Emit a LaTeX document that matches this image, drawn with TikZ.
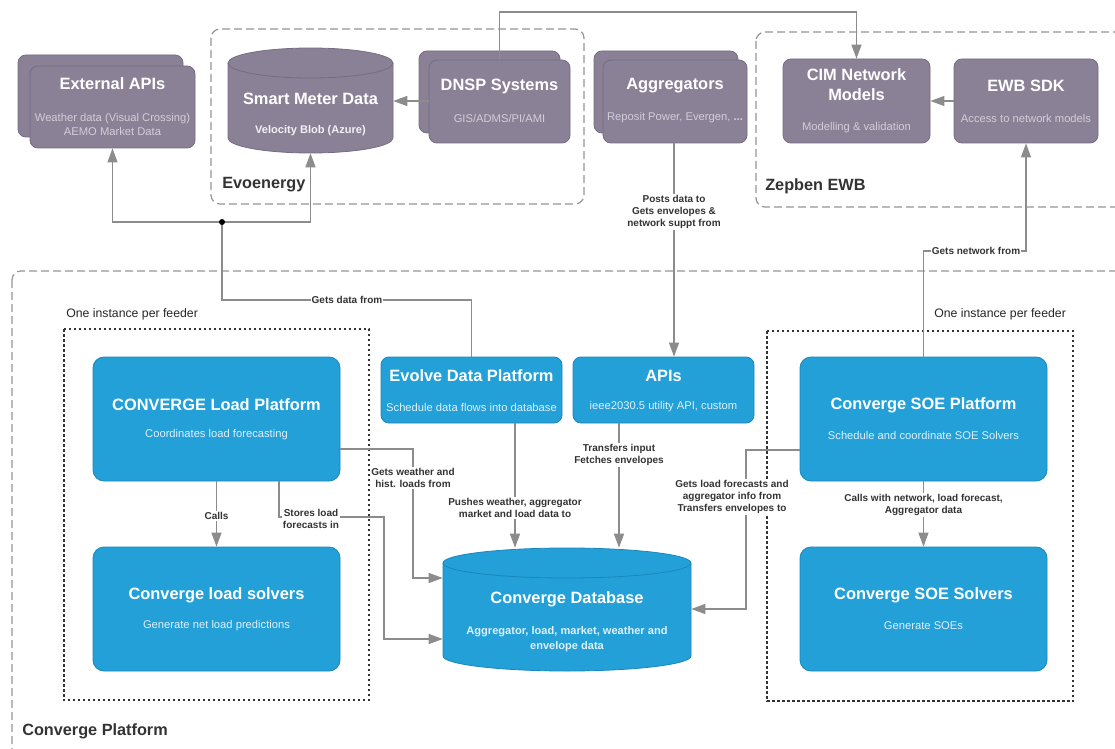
\documentclass[tikz,border=0pt]{standalone}
\usepackage{fontspec}
\setmainfont{Liberation Sans}
\usetikzlibrary{arrows.meta}
\newlength{\du}
\setlength{\du}{0.75pt}
\definecolor{evopurple}{RGB}{139,129,150}
\definecolor{evoedge}{RGB}{118,108,130}
\definecolor{convblue}{RGB}{35,160,216}
\definecolor{convedge}{RGB}{25,135,188}
\definecolor{linegray}{RGB}{140,140,140}
\definecolor{dashgray}{RGB}{150,150,150}
\definecolor{labelgray}{RGB}{51,51,51}
\definecolor{purplesub}{RGB}{210,206,216}
\definecolor{bluesub}{RGB}{222,240,250}
\tikzset{
  grpbox/.style={draw=dashgray, line width=1.2\du, dash pattern=on 8\du off 4\du, rounded corners=9\du},
  instbox/.style={draw=black!80, line width=1.2\du, dash pattern=on 2.5\du off 2.5\du},
  pbox/.style={fill=evopurple, draw=evoedge, line width=0.8\du, rounded corners=8\du, inner sep=0},
  bbox/.style={fill=convblue, draw=convedge, line width=0.8\du, rounded corners=11\du, inner sep=0},
  ttl/.style={text=white, font=\fontsize{12.3}{15}\selectfont\bfseries, align=center, inner sep=0},
  psub/.style={text=purplesub, font=\fontsize{8.4}{10.5}\selectfont, align=center, inner sep=0},
  bsub/.style={text=bluesub, font=\fontsize{8.4}{10.5}\selectfont, align=center, inner sep=0},
  grplbl/.style={text=labelgray, font=\fontsize{12.2}{14}\selectfont\bfseries, anchor=west, inner sep=0},
  instlbl/.style={text=black!85, font=\fontsize{9.2}{11}\selectfont, anchor=west, inner sep=0},
  elbl/.style={fill=white, text=labelgray, font=\fontsize{7.5}{9.3}\selectfont\bfseries, align=center, inner sep=1.2\du},
  lnk/.style={draw=linegray, line width=1.2\du},
  conn/.style={lnk, -{Triangle[length=10.5pt,width=7.5pt]}}
}
\begin{document}
\begin{tikzpicture}[x=0.75pt,y=-0.75pt]
\useasboundingbox (0,0) rectangle (1115,749);
\clip (0,0) rectangle (1115,749);
\fill[white] (0,0) rectangle (1115,749);
% groups
\draw[grpbox] (211,29) rectangle (584,204);
\draw[grpbox] (756,32) rectangle (1140,207);
\draw[grpbox] (12,271) rectangle (1140,780);
\draw[instbox] (64,329) rectangle (369,700);
\draw[instbox] (767,331) rectangle (1073,701);
\node[grplbl] (evo-lbl) at (222,185) {Evoenergy};
\node[grplbl] (zep-lbl) at (765,186) {Zepben EWB};
\node[grplbl] (conv-lbl) at (22,731) {Converge Platform};
\node[instlbl] (inst-l) at (66,314) {One instance per feeder};
\node[instlbl] (inst-r) at (934,314) {One instance per feeder};
% external systems
\node[pbox, minimum width=165\du, minimum height=82\du] (ext-bk) at (100.5,96) {};
\node[pbox, minimum width=165\du, minimum height=82\du] (ext) at (112.5,107) {};
\node[ttl] (ext-t) at (112.5,84) {External APIs};
\node[psub] (ext-s) at (112.5,124) {Weather data (Visual Crossing)\\AEMO Market Data};
\fill[evopurple] (228,63) -- (228,138) arc[start angle=180,end angle=360,x radius=82.5\du,y radius=15\du] -- (393,63) arc[start angle=0,end angle=180,x radius=82.5\du,y radius=15\du] -- cycle;
\draw[evoedge, line width=0.8\du] (228,63) -- (228,138) arc[start angle=180,end angle=360,x radius=82.5\du,y radius=15\du] -- (393,63) arc[start angle=0,end angle=180,x radius=82.5\du,y radius=15\du] -- cycle;
\draw[evoedge, line width=0.8\du] (228,63) arc[start angle=180,end angle=360,x radius=82.5\du,y radius=15\du];
\node[minimum width=165\du, minimum height=105\du, inner sep=0] (smd) at (310.5,100.5) {};
\node[ttl] (smd-t) at (310.5,99) {Smart Meter Data};
\node[psub, font=\fontsize{8.3}{10}\selectfont\bfseries, text=white!88!evopurple] (smd-s) at (310.5,131) {Velocity Blob (Azure)};
\node[pbox, minimum width=141\du, minimum height=82\du] (dnsp-bk) at (489.5,92) {};
\node[pbox, minimum width=141\du, minimum height=83\du] (dnsp) at (499.5,101.5) {};
\node[ttl] (dnsp-t) at (499.5,86) {DNSP Systems};
\node[psub] (dnsp-s) at (499.5,118) {GIS/ADMS/PI/AMI};
\node[pbox, minimum width=144\du, minimum height=82\du] (agg-bk) at (666,92) {};
\node[pbox, minimum width=144\du, minimum height=83\du] (agg) at (675,101.5) {};
\node[ttl] (agg-t) at (675,86) {Aggregators};
\node[psub] (agg-s) at (675,118) {Reposit Power, Evergen, \textbf{...}};
\node[pbox, minimum width=147\du, minimum height=84\du] (cim) at (856.5,101) {};
\node[ttl] (cim-t) at (856.5,85) {CIM Network\\Models};
\node[psub] (cim-s) at (856.5,128) {Modelling \& validation};
\node[pbox, minimum width=144\du, minimum height=84\du] (ewb) at (1026,101) {};
\node[ttl] (ewb-t) at (1026,86) {EWB SDK};
\node[psub] (ewb-s) at (1026,118) {Access to network models};
% converge platform
\node[bbox, minimum width=247\du, minimum height=124\du] (lp) at (216.5,419) {};
\node[ttl] (lp-t) at (216.5,405) {CONVERGE Load Platform};
\node[bsub] (lp-s) at (216.5,435) {Coordinates load forecasting};
\node[bbox, minimum width=247\du, minimum height=124\du] (ls) at (216.5,609) {};
\node[ttl] (ls-t) at (216.5,595) {Converge load solvers};
\node[bsub] (ls-s) at (216.5,626) {Generate net load predictions};
\node[bbox, rounded corners=8\du, minimum width=181\du, minimum height=66\du] (edp) at (471.5,390) {};
\node[ttl] (edp-t) at (471.5,376) {Evolve Data Platform};
\node[bsub] (edp-s) at (471.5,407) {Schedule data flows into database};
\node[bbox, rounded corners=8\du, minimum width=181\du, minimum height=66\du] (api) at (663.5,390) {};
\node[ttl] (api-t) at (663.5,376) {APIs};
\node[bsub] (api-s) at (663.5,407) {ieee2030.5 utility API, custom};
\node[bbox, minimum width=247\du, minimum height=124\du] (soe) at (923.5,419) {};
\node[ttl] (soe-t) at (923.5,405) {Converge SOE Platform};
\node[bsub] (soe-s) at (923.5,435) {Schedule and coordinate SOE Solvers};
\node[bbox, minimum width=247\du, minimum height=124\du] (ss) at (923.5,609) {};
\node[ttl] (ss-t) at (923.5,595) {Converge SOE Solvers};
\node[bsub] (ss-s) at (923.5,626) {Generate SOEs};
\fill[convblue] (443,563) -- (443,656) arc[start angle=180,end angle=360,x radius=124\du,y radius=15\du] -- (691,563) arc[start angle=0,end angle=180,x radius=124\du,y radius=15\du] -- cycle;
\draw[convedge, line width=0.8\du] (443,563) -- (443,656) arc[start angle=180,end angle=360,x radius=124\du,y radius=15\du] -- (691,563) arc[start angle=0,end angle=180,x radius=124\du,y radius=15\du] -- cycle;
\draw[convedge, line width=0.8\du] (443,563) arc[start angle=180,end angle=360,x radius=124\du,y radius=15\du];
\node[minimum width=248\du, minimum height=123\du, inner sep=0] (db) at (567,609.5) {};
\node[ttl] (db-t) at (567,599) {Converge Database};
\node[bsub, font=\fontsize{8.3}{11.2}\selectfont\bfseries] (db-s) at (567,639.5) {Aggregator, load, market, weather and\\envelope data};
% connectors
\coordinate (y101) at (0,101);
\coordinate (y12) at (0,12);
\coordinate (y300) at (0,300);
\coordinate (y251) at (0,251);
\coordinate (x674) at (674,0);
\coordinate (x279) at (279,0);
\coordinate (x515) at (515,0);
\coordinate (x619) at (619,0);
\coordinate (y449) at (0,449);
\coordinate (y450) at (0,450);
\coordinate (y578) at (0,578);
\coordinate (y609) at (0,609);
\coordinate (y639) at (0,639);
\draw[conn] (dnsp.west |- y101) -- (smd.east |- y101);
\draw[conn] (ewb.west) -- (cim.east);
\draw[conn] (dnsp.north) -- (dnsp.north |- y12) -| (cim.north);
\coordinate (jn) at (222,222);
\draw[conn] (jn) -| (ext.south);
\draw[conn] (jn) -| (smd.south);
\draw[lnk] (jn) |- (edp.north |- y300) -- (edp.north);
\fill[black] (jn) circle[radius=3\du];
\draw[conn] (agg.south -| x674) -- (api.north -| x674);
\draw[conn] (soe.north) -- (soe.north |- y251) -| (ewb.south);
\draw[conn] (lp.south) -- (ls.north);
\draw[conn] (soe.south) -- (ss.north);
\draw[conn] (lp.east |- y449) -| (413,578) -- (db.west |- y578);
\draw[conn] (lp.south -| x279) |- (384,517) |- (db.west |- y639);
\draw[conn] (edp.south -| x515) -- (db.north -| x515);
\draw[conn] (api.south -| x619) -- (db.north -| x619);
\draw[conn] (soe.west |- y450) -| (746,609) -- (db.east |- y609);
% connector labels
\node[elbl] (gd-lbl) at (347,300) {Gets data from};
\node[elbl] (ps-lbl) at (674,212) {Posts data to\\Gets envelopes \&\\network suppt from};
\node[elbl] (gn-lbl) at (976,251) {Gets network from};
\node[elbl] (ca-lbl) at (216.5,516) {Calls};
\node[elbl] (cw-lbl) at (923.5,505) {Calls with network, load forecast,\\Aggregator data};
\node[elbl] (gw-lbl) at (413,478) {Gets weather and\\hist. loads from};
\node[elbl] (st-lbl) at (311,519) {Stores load\\forecasts in};
\node[elbl] (pw-lbl) at (515,508) {Pushes weather, aggregator\\market and load data to};
\node[elbl] (tr-lbl) at (619,455) {Transfers input\\Fetches envelopes};
\node[elbl] (gl-lbl) at (732,497) {Gets load forecasts and\\aggregator info from\\Transfers envelopes to};
\end{tikzpicture}
\end{document}
